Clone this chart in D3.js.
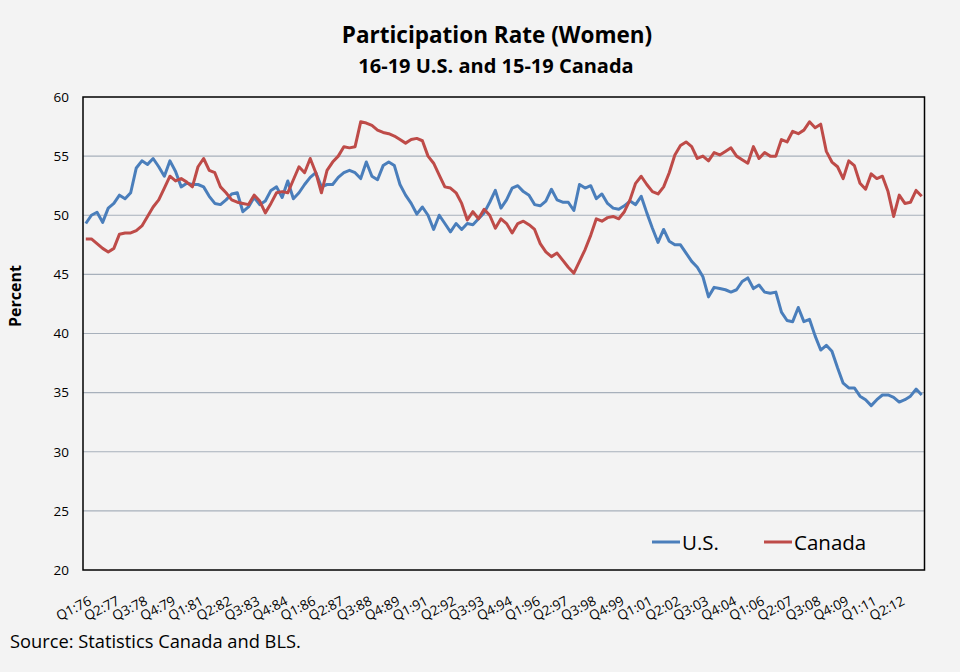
<!DOCTYPE html>
<html>
<head>
<meta charset="utf-8">
<script src="https://cdn.jsdelivr.net/npm/d3@7"></script>
<style>
  html, body { margin: 0; padding: 0; background: #f3f3f3; }
  svg { display: block; font-family: "Open Sans", "Noto Sans", sans-serif; }
</style>
</head>
<body>
<svg id="chart" width="960" height="672"></svg>
<script>
// ---- Data (quarterly, Q1:76 onward) ----
const usValues = [
  49.3, 50.0, 50.25, 49.4, 50.6, 51.0, 51.7, 51.4, 51.9, 54.0,
  54.6, 54.3, 54.8, 54.1, 53.3, 54.6, 53.7, 52.4, 52.7, 52.6,
  52.6, 52.4, 51.6, 51.0, 50.9, 51.3, 51.8, 51.9, 50.3, 50.7,
  51.5, 50.9, 51.2, 52.1, 52.4, 51.5, 52.9,
  51.4, 51.9, 52.6, 53.2, 53.6, 52.4, 52.6, 52.6, 53.2, 53.6,
  53.8, 53.6, 53.1, 54.5, 53.3, 53.0, 54.2, 54.5, 54.2, 52.6,
  51.7, 51.0, 50.1, 50.7, 50.0, 48.8, 50.0, 49.3, 48.6, 49.3,
  48.8, 49.3, 49.2, 49.7, 50.2, 51.1, 52.1, 50.6,
  51.3, 52.3, 52.5, 52.0, 51.7, 50.9, 50.8, 51.2, 52.2, 51.3,
  51.1, 51.1, 50.4, 52.6, 52.3, 52.5, 51.4, 51.8, 51.0, 50.6,
  50.5, 50.8, 51.2, 50.9, 51.6, 50.2, 48.9, 47.7, 48.8, 47.8,
  47.5, 47.5, 46.8, 46.1, 45.6, 44.8, 43.1,
  43.9, 43.8, 43.7, 43.5, 43.7, 44.4, 44.7, 43.8, 44.1, 43.5,
  43.4, 43.5, 41.8, 41.1, 41.0, 42.2, 41.0, 41.2, 39.8, 38.6,
  39.0, 38.5, 37.1, 35.8, 35.4, 35.4, 34.7, 34.4, 33.9, 34.4,
  34.8, 34.8, 34.6, 34.2, 34.4, 34.7, 35.3, 34.8
];
const canadaValues = [
  48.0, 48.0, 47.6, 47.2, 46.9, 47.2, 48.4, 48.5, 48.5, 48.7,
  49.1, 49.9, 50.7, 51.3, 52.3, 53.3, 52.9, 53.1, 52.8, 52.4,
  54.1, 54.8, 53.8, 53.6, 52.4, 51.9, 51.3, 51.1, 51.0, 50.9,
  51.7, 51.2, 50.2, 51.0, 51.9, 52.0, 51.9,
  53.0, 54.1, 53.6, 54.8, 53.6, 51.9, 53.8, 54.5, 55.0, 55.8,
  55.7, 55.8, 57.9, 57.8, 57.6, 57.2, 57.0, 56.9, 56.7, 56.4,
  56.1, 56.4, 56.5, 56.3, 55.0, 54.4, 53.4, 52.4, 52.3, 51.9,
  51.0, 49.6, 50.3, 49.7, 50.5, 50.0, 48.9, 49.7,
  49.3, 48.5, 49.3, 49.5, 49.2, 48.8, 47.6, 46.9, 46.5, 46.8,
  46.2, 45.6, 45.1, 46.1, 47.1, 48.3, 49.7, 49.5, 49.8, 49.9,
  49.7, 50.3, 51.3, 52.7, 53.3, 52.6, 52.0, 51.8, 52.4, 53.6,
  55.1, 55.9, 56.2, 55.8, 54.8, 55.0, 54.6,
  55.3, 55.1, 55.4, 55.7, 55.0, 54.7, 54.4, 55.8, 54.8, 55.3,
  55.0, 55.0, 56.4, 56.2, 57.1, 56.9, 57.2, 57.9, 57.4, 57.7,
  55.4, 54.5, 54.1, 53.1, 54.6, 54.2, 52.7, 52.2, 53.5, 53.1,
  53.3, 52.0, 49.9, 51.7, 51.0, 51.1, 52.1, 51.6
];
const startYear = 1976;
const quarters = usValues.map((_, i) =>
  "Q" + (i % 4 + 1) + ":" + String((startYear + Math.floor(i / 4)) % 100).padStart(2, "0"));
const tickLabels = quarters.filter((_, i) => i % 5 === 0);
const yTicks = [20, 25, 30, 35, 40, 45, 50, 55, 60];
const seriesNames = ["U.S.", "Canada"];
const seriesColors = ["#4a7ebb", "#be4b48"];

// ---- Layout ----
const svg = d3.select("#chart");
const plot = { left: 83, right: 924.5, top: 97, bottom: 570 };

const x = d3.scalePoint().domain(quarters).range([plot.left, plot.right]).padding(0.5);
const y = d3.scaleLinear().domain([20, 60]).range([plot.bottom, plot.top]);

// gridlines
svg.append("g")
  .selectAll("line")
  .data(yTicks.filter(v => v > 20 && v < 60))
  .join("line")
  .attr("x1", plot.left).attr("x2", plot.right)
  .attr("y1", d => y(d)).attr("y2", d => y(d))
  .attr("stroke", "#a7b0bb").attr("stroke-width", 1.2);

// y axis labels
const yAxis = d3.axisLeft(y).tickValues(yTicks).tickSize(0).tickPadding(14).tickFormat(d3.format("d"));
const yg = svg.append("g").attr("transform", `translate(${plot.left},0)`).call(yAxis);
yg.select(".domain").remove();
yg.selectAll("text").attr("font-size", 13.5).attr("fill", "#000").attr("font-family", "'Open Sans', sans-serif");

// x axis labels
const xAxis = d3.axisBottom(x).tickValues(tickLabels).tickSize(0).tickFormat(d => d);
const xg = svg.append("g").attr("transform", `translate(0,${plot.bottom})`).call(xAxis);
xg.select(".domain").remove();
xg.selectAll("text")
  .attr("font-size", 13.5).attr("fill", "#000").attr("font-family", "'Open Sans', sans-serif")
  .attr("text-anchor", "end")
  .attr("x", 0).attr("y", 0).attr("dy", 0)
  .attr("transform", "translate(6,34) rotate(-27)");

// plot border
svg.append("rect")
  .attr("x", plot.left).attr("y", plot.top)
  .attr("width", plot.right - plot.left).attr("height", plot.bottom - plot.top)
  .attr("fill", "none").attr("stroke", "#000").attr("stroke-width", 1.5);

// lines
const line = d3.line().x((d, i) => x(quarters[i])).y(d => y(d));
[usValues, canadaValues].forEach((vals, si) => {
  svg.append("path")
    .datum(vals)
    .attr("d", line)
    .attr("fill", "none")
    .attr("stroke", seriesColors[si])
    .attr("stroke-width", 3)
    .attr("stroke-linejoin", "round");
});

// legend
const legendX = [652, 764];
seriesNames.forEach((name, i) => {
  const g = svg.append("g").attr("transform", `translate(${legendX[i]},542)`);
  g.append("line").attr("x1", 0).attr("x2", 28).attr("y1", 0).attr("y2", 0)
    .attr("stroke", seriesColors[i]).attr("stroke-width", 3);
  g.append("text").attr("x", 30).attr("y", 7.5).attr("font-size", 20.5).attr("fill", "#000").text(name);
});

// titles
svg.append("text").attr("x", 497).attr("y", 43).attr("text-anchor", "middle")
  .attr("font-size", 22.5).attr("font-weight", "bold").text("Participation Rate (Women)");
svg.append("text").attr("x", 496).attr("y", 73).attr("text-anchor", "middle")
  .attr("font-size", 20).attr("font-weight", "bold").text("16-19 U.S. and 15-19 Canada");

// y axis title
svg.append("text").attr("transform", "translate(21,296) rotate(-90)").attr("text-anchor", "middle")
  .attr("font-size", 16).attr("font-weight", "bold").text("Percent");

// source
svg.append("text").attr("x", 10).attr("y", 648).attr("font-size", 18.3).text("Source: Statistics Canada and BLS.");
</script>
</body>
</html>
